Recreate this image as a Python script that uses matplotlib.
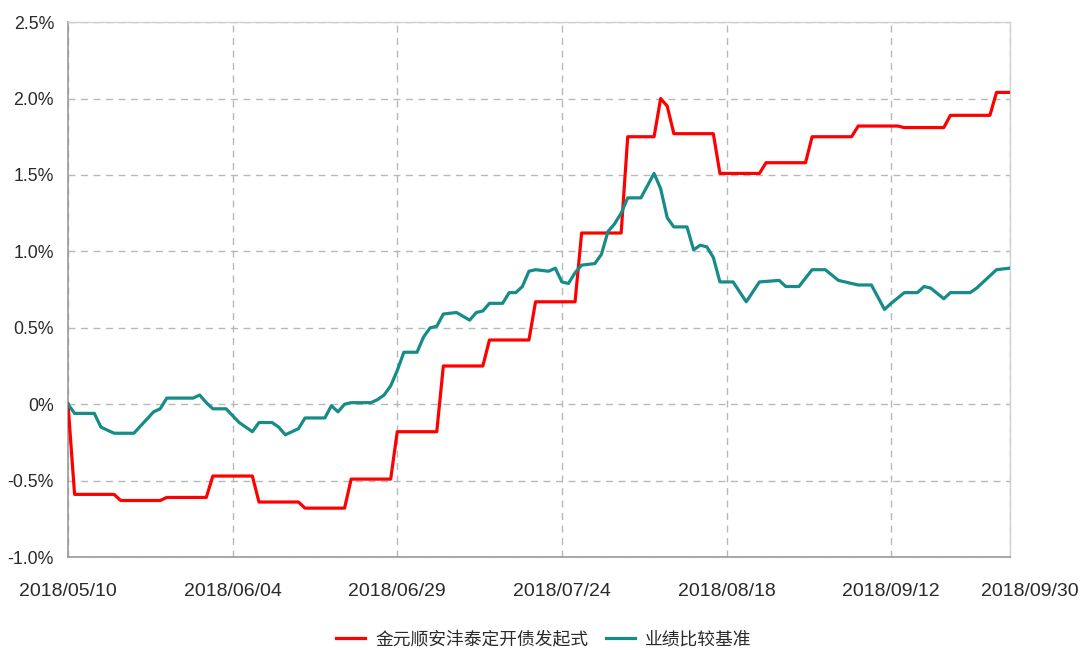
import pandas as pd
import matplotlib
matplotlib.use('Agg')
import matplotlib.pyplot as plt
import matplotlib.dates as mdates
import matplotlib.transforms as mtransforms
from matplotlib.ticker import FuncFormatter

plt.rcParams['font.family'] = ['Liberation Sans', 'Noto Sans CJK SC', 'DejaVu Sans']

# fund (red) - weekly net value steps, % return
fund_dates = ['2018-05-10', '2018-05-11', '2018-05-17', '2018-05-18', '2018-05-24', '2018-05-25',
              '2018-05-31', '2018-06-01', '2018-06-07', '2018-06-08', '2018-06-14', '2018-06-15',
              '2018-06-21', '2018-06-22', '2018-06-28', '2018-06-29', '2018-07-05', '2018-07-06',
              '2018-07-12', '2018-07-13', '2018-07-19', '2018-07-20', '2018-07-26', '2018-07-27',
              '2018-08-02', '2018-08-03', '2018-08-07', '2018-08-08', '2018-08-09', '2018-08-10',
              '2018-08-16', '2018-08-17', '2018-08-23', '2018-08-24', '2018-08-30', '2018-08-31',
              '2018-09-06', '2018-09-07', '2018-09-13', '2018-09-14', '2018-09-20', '2018-09-21',
              '2018-09-27', '2018-09-28', '2018-09-30']
fund_values = [0.00, -0.59, -0.59, -0.63, -0.63, -0.61,
               -0.61, -0.47, -0.47, -0.64, -0.64, -0.68,
               -0.68, -0.49, -0.49, -0.18, -0.18, 0.25,
               0.25, 0.42, 0.42, 0.67, 0.67, 1.12,
               1.12, 1.75, 1.75, 2.00, 1.95, 1.77,
               1.77, 1.51, 1.51, 1.58, 1.58, 1.75,
               1.75, 1.82, 1.82, 1.81, 1.81, 1.89,
               1.89, 2.04, 2.04]

# benchmark (teal), % return
bench_dates = ['2018-05-10', '2018-05-11', '2018-05-14', '2018-05-15', '2018-05-17', '2018-05-20',
               '2018-05-23', '2018-05-24', '2018-05-25', '2018-05-29', '2018-05-30', '2018-05-31',
               '2018-06-01', '2018-06-03', '2018-06-05', '2018-06-07', '2018-06-08', '2018-06-10',
               '2018-06-11', '2018-06-12', '2018-06-14', '2018-06-15', '2018-06-18', '2018-06-19',
               '2018-06-20', '2018-06-21', '2018-06-22', '2018-06-25', '2018-06-26', '2018-06-27',
               '2018-06-28', '2018-06-29', '2018-06-30', '2018-07-02', '2018-07-03', '2018-07-04',
               '2018-07-05', '2018-07-06', '2018-07-08', '2018-07-10', '2018-07-11', '2018-07-12',
               '2018-07-13', '2018-07-15', '2018-07-16', '2018-07-17', '2018-07-18', '2018-07-19',
               '2018-07-20', '2018-07-22', '2018-07-23', '2018-07-24', '2018-07-25', '2018-07-26',
               '2018-07-27', '2018-07-29', '2018-07-30', '2018-07-31', '2018-08-01', '2018-08-02',
               '2018-08-03', '2018-08-05', '2018-08-06', '2018-08-07', '2018-08-08', '2018-08-09',
               '2018-08-10', '2018-08-12', '2018-08-13', '2018-08-14', '2018-08-15', '2018-08-16',
               '2018-08-17', '2018-08-19', '2018-08-21', '2018-08-23', '2018-08-26', '2018-08-27',
               '2018-08-29', '2018-08-31', '2018-09-02', '2018-09-04', '2018-09-05', '2018-09-07',
               '2018-09-09', '2018-09-11', '2018-09-12', '2018-09-14', '2018-09-16', '2018-09-17',
               '2018-09-18', '2018-09-20', '2018-09-21', '2018-09-24', '2018-09-25', '2018-09-26',
               '2018-09-28', '2018-09-30']
bench_values = [0.00, -0.06, -0.06, -0.15, -0.19, -0.19,
                -0.05, -0.03, 0.04, 0.04, 0.06, 0.01,
                -0.03, -0.03, -0.12, -0.18, -0.12, -0.12,
                -0.15, -0.20, -0.16, -0.09, -0.09, -0.01,
                -0.05, 0.00, 0.01, 0.01, 0.03, 0.06,
                0.12, 0.22, 0.34, 0.34, 0.44, 0.50,
                0.51, 0.59, 0.60, 0.55, 0.60, 0.61,
                0.66, 0.66, 0.73, 0.73, 0.77, 0.87,
                0.88, 0.87, 0.89, 0.80, 0.79, 0.86,
                0.91, 0.92, 0.98, 1.13, 1.18, 1.25,
                1.35, 1.35, 1.43, 1.51, 1.41, 1.22,
                1.16, 1.16, 1.01, 1.04, 1.03, 0.96,
                0.80, 0.80, 0.67, 0.80, 0.81, 0.77,
                0.77, 0.88, 0.88, 0.81, 0.80, 0.78,
                0.78, 0.62, 0.66, 0.73, 0.73, 0.77,
                0.76, 0.69, 0.73, 0.73, 0.76, 0.80,
                0.88, 0.89]

tick_dates = ['2018-05-10', '2018-06-04', '2018-06-29', '2018-07-24', '2018-08-18', '2018-09-12', '2018-09-30']
y_ticks = [-1.0, -0.5, 0, 0.5, 1.0, 1.5, 2.0, 2.5]

fund_name = '金元顺安沣泰定开债发起式'
bench_name = '业绩比较基准'

fig = plt.figure(figsize=(10.88, 6.5), dpi=100)
ax = fig.add_axes([0.0625, 0.143, 0.8655, 0.823])

ax.plot(pd.to_datetime(fund_dates), fund_values, color='#ff0000', lw=2.3, label=fund_name, zorder=3)
ax.plot(pd.to_datetime(bench_dates), bench_values, color='#168c88', lw=2.3, label=bench_name, zorder=3)

ax.set_xlim(pd.Timestamp('2018-05-10'), pd.Timestamp('2018-09-30'))
ax.set_ylim(-1.0, 2.5)
ax.set_yticks(y_ticks)
ax.yaxis.set_major_formatter(FuncFormatter(lambda v, p: '0%' if abs(v) < 1e-9 else '%.1f%%' % v))
ax.set_xticks(pd.to_datetime(tick_dates))
ax.xaxis.set_major_formatter(mdates.DateFormatter('%Y/%m/%d'))

ax.grid(True, color='#b8b8b8', linestyle=(0, (5, 4)), lw=1.0)
ax.tick_params(axis='both', length=0, labelcolor='#2a2a2a')
ax.tick_params(axis='x', pad=19, labelsize=14)
ax.tick_params(axis='y', pad=10, labelsize=12.8)

# last date label sits a bit to the right
lbl = ax.get_xticklabels()[-1]
lbl.set_transform(lbl.get_transform() + mtransforms.ScaledTranslation(0.2, 0, fig.dpi_scale_trans))

for s in ['left', 'bottom']:
    ax.spines[s].set_color('#999999')
    ax.spines[s].set_linewidth(1.2)
for s in ['top', 'right']:
    ax.spines[s].set_color('#d0d0d0')
    ax.spines[s].set_linewidth(1.0)

fig.legend(loc='lower center', bbox_to_anchor=(0.5, -0.022), ncol=2, frameon=False,
           fontsize=12.8, handlelength=1.6, columnspacing=1.0, handletextpad=0.6,
           labelcolor='#2a2a2a')

fig.savefig('out.png', dpi=100)
